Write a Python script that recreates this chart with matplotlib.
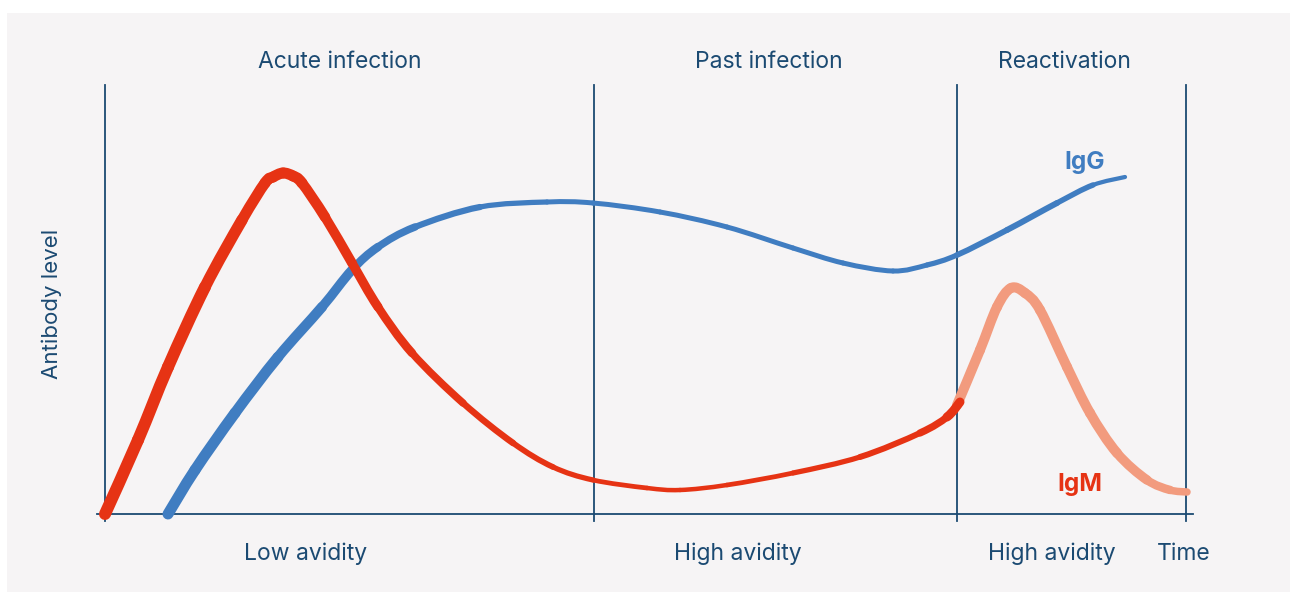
import numpy as np
import matplotlib.pyplot as plt
from matplotlib.patches import Rectangle, PathPatch
from matplotlib.path import Path

plt.rcParams['font.family'] = ['Inter', 'DejaVu Sans']

# time (x) and antibody level (y)
igm_t = [0, 33, 63, 100, 137, 160, 168, 178, 188, 197, 220, 247, 273, 307, 358, 408,
         448, 488, 542, 575, 622, 688, 755, 815, 842, 855]
igm_y = [0, 74, 147, 227, 294, 331, 337, 341, 338, 331, 297, 251, 207, 161, 111, 71,
         47, 34, 26, 24, 29, 41, 57, 81, 97, 112]

igm2_t = [852, 875, 892, 906, 920, 935, 962, 985, 1012, 1042, 1065, 1082]
igm2_y = [109, 164, 207, 226, 221, 204, 147, 101, 61, 34, 24, 22]

igg_t = [63, 90, 130, 173, 217, 247, 273, 310, 375, 442, 488, 555, 622, 688, 738,
         788, 822, 852, 902, 952, 988, 1020]
igg_y = [0, 44, 101, 157, 207, 244, 267, 287, 307, 312, 311, 302, 287, 266, 251,
         243, 249, 259, 284, 311, 329, 337]

phase_edges = [0, 489, 852, 1081]
top_labels = ['Acute infection', 'Past infection', 'Reactivation']
top_pos = [235, 664, 959]
bottom_labels = ['Low avidity', 'High avidity', 'High avidity', 'Time']
bottom_pos = [201, 633, 947, 1079]

# line widths in pixels along each curve
igm_w = [12, 12, 12, 12, 11, 11, 11, 11, 11, 11, 10, 9.5, 9, 8, 7, 6,
         5.5, 5, 4.5, 4.5, 4.5, 5, 5.5, 6.5, 8, 10]
igm2_w = [10, 10, 10, 10, 10, 10, 10, 10, 10, 9, 8, 7]
igg_w = [11, 11, 11, 10.5, 10, 9, 8, 7, 5.5, 5, 5, 5, 5, 5, 5,
         5, 5, 5.5, 6, 6, 5, 3.5]

navy = '#1b4a72'
red = '#e63314'
blue = '#407dc1'
pink = '#f29b7e'
bg = '#f6f4f5'

fig = plt.figure(figsize=(12.9, 5.92), dpi=100)
fig.patch.set_facecolor('white')

ax = fig.add_axes([0, 0, 1, 1])
ax.set_xlim(-105, 1185)
ax.set_ylim(-78, 514)
ax.axis('off')
ax.add_patch(Rectangle((7 / 1290, 0), 1283 / 1290, 579 / 592,
                       transform=fig.transFigure, facecolor=bg, edgecolor='none', zorder=0))


def smooth_line(t, y, w, color, z=3):
    # each piece is a bezier through neighbouring points, so the width can change
    p = np.column_stack([t, y]).astype(float)
    n = len(p)
    for i in range(n - 1):
        p0 = p[max(i - 1, 0)]
        p3 = p[min(i + 2, n - 1)]
        c1 = p[i] + (p[i + 1] - p0) / 6
        c2 = p[i + 1] - (p3 - p[i]) / 6
        path = Path([p[i], c1, c2, p[i + 1]],
                    [Path.MOVETO, Path.CURVE4, Path.CURVE4, Path.CURVE4])
        lw = (w[i] + w[i + 1]) / 2 * 0.72
        ax.add_patch(PathPatch(path, fill=False, edgecolor=color, lw=lw,
                               capstyle='round', joinstyle='round', zorder=z))


# frame lines
ax.plot([-8, 1088], [0, 0], color=navy, lw=1.3, zorder=2)
for x in phase_edges:
    ax.plot([x, x], [-7, 429], color=navy, lw=1.3, zorder=2)

smooth_line(igm2_t, igm2_y, igm2_w, pink)
smooth_line(igg_t, igg_y, igg_w, blue)
smooth_line(igm_t, igm_y, igm_w, red, z=4)

for lab, x in zip(top_labels, top_pos):
    ax.text(x, 452, lab, color=navy, fontsize=16.5, ha='center', va='center')
for lab, x in zip(bottom_labels, bottom_pos):
    ax.text(x, -40, lab, color=navy, fontsize=16.5, ha='center', va='center')
ax.text(-53, 210, 'Antibody level', color=navy, fontsize=16, rotation=90,
        ha='center', va='center')
ax.text(980, 351, 'IgG', color=blue, fontsize=17.5, fontweight='bold', ha='center', va='center')
ax.text(975, 30, 'IgM', color=red, fontsize=17.5, fontweight='bold', ha='center', va='center')

fig.savefig('out.png', dpi=100, facecolor=fig.get_facecolor())
